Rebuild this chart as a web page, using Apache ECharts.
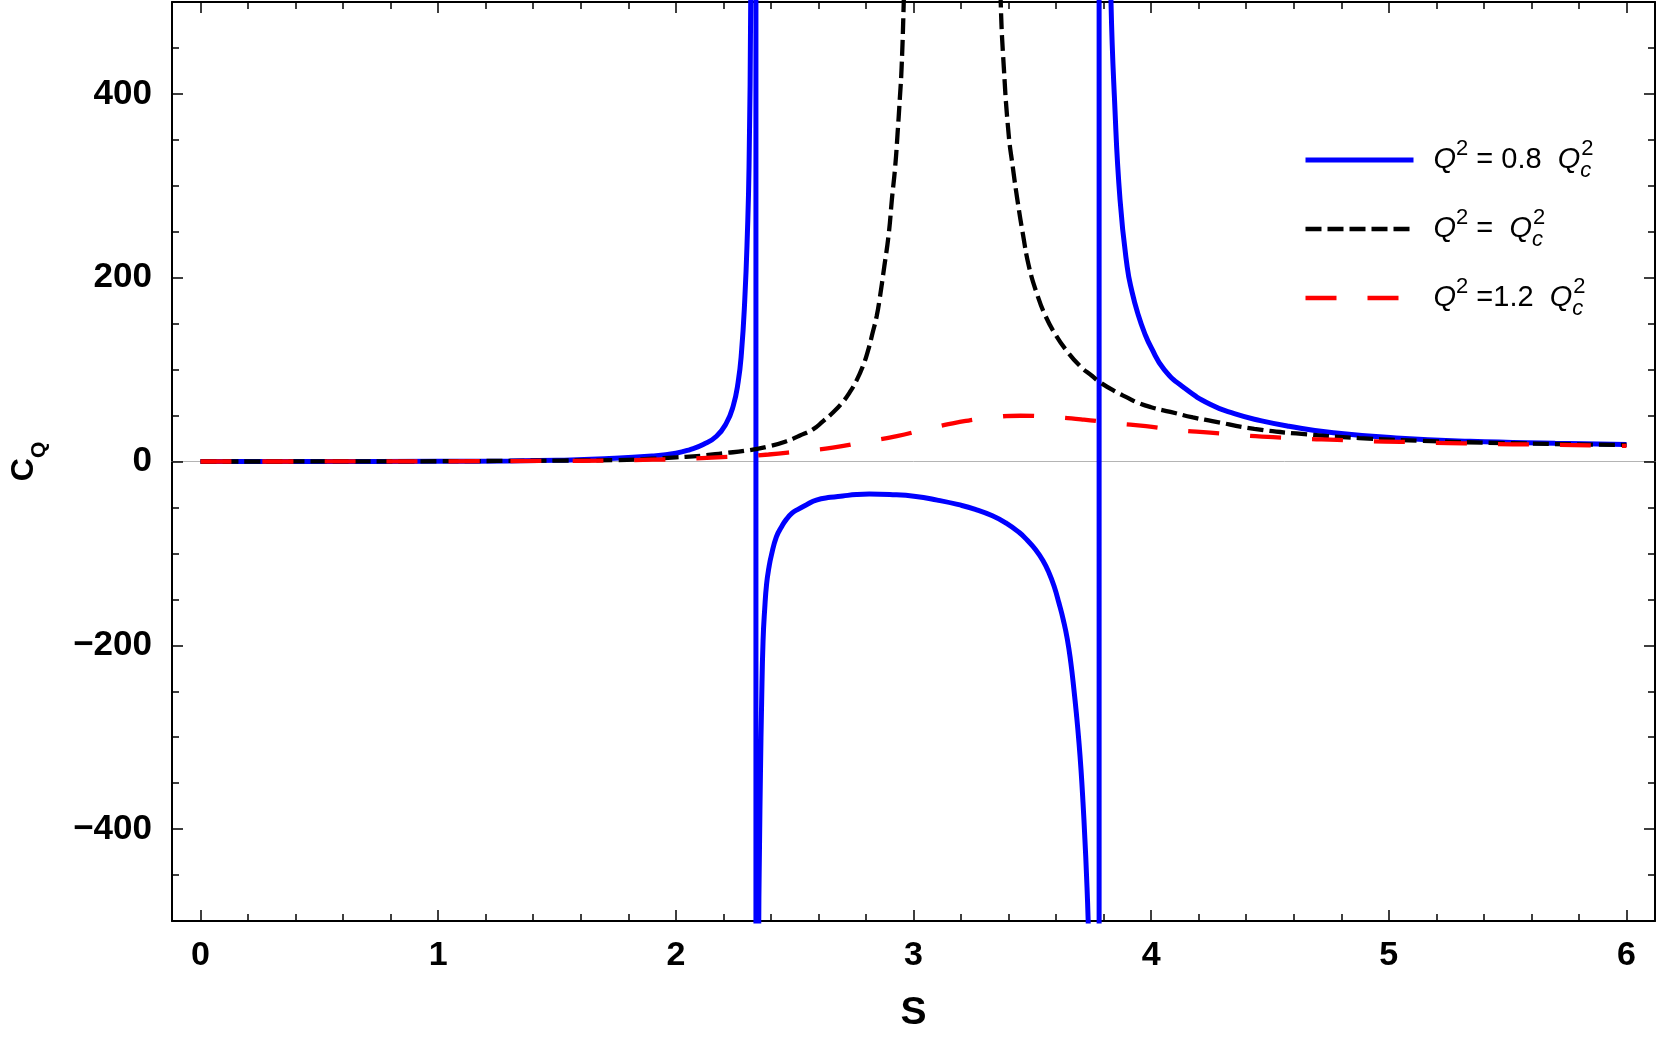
<!DOCTYPE html>
<html>
<head>
<meta charset="utf-8">
<title>C_Q vs S</title>
<script src="https://cdn.jsdelivr.net/npm/echarts@6/dist/echarts.min.js"></script>
<style>
  html, body { margin: 0; padding: 0; background: #fff; }
  #chart { width: 1661px; height: 1038px; }
</style>
</head>
<body>
<div id="chart"></div>
<script>
// 数据: S 与 C_Q
const sBlue = [0, 0.5, 1.0, 1.3, 1.5, 1.7, 1.9, 2.0, 2.06, 2.115, 2.171, 2.213, 2.241, 2.262, 2.276, 2.29, 2.301, 2.308, 2.315, 2.325, 2.332, 2.337,
  2.337, 2.342, 2.346, 2.349, 2.352, 2.356, 2.361, 2.367, 2.374, 2.382, 2.392, 2.402, 2.423, 2.445, 2.465, 2.49, 2.514, 2.55, 2.591, 2.65, 2.702,
  2.76, 2.814, 2.9, 3.01, 3.1, 3.19, 3.26, 3.332, 3.39, 3.444, 3.48, 3.514, 3.545, 3.57, 3.592, 3.612, 3.63, 3.647, 3.662, 3.675, 3.686, 3.696,
  3.705, 3.713, 3.721, 3.728, 3.735, 3.75, 3.77, 3.781, 3.781, 3.79, 3.8, 3.815, 3.831, 3.846, 3.869, 3.899, 3.92, 3.945, 3.972, 4.0, 4.055,
  4.14, 4.25, 4.35, 4.46, 4.58, 4.767, 5.031, 5.342, 5.7, 6.0];
const cBlue = [0, 0.05, 0.3, 0.6, 1.3, 3, 6, 9, 13, 18.5, 27.5, 42, 60, 86, 118, 176, 248, 321, 500, 1000, 3000, 20000,
  -20000, -2000, -900, -500, -420, -340, -262, -195, -160, -133, -115, -102, -82, -71, -63, -56, -52, -47, -42, -39, -37.5,
  -36, -35.5, -36, -38, -42, -47, -52, -59, -67, -77, -86, -96, -108, -121, -136, -154, -172, -193, -219, -248, -276, -305,
  -336, -370, -410, -450, -500, -650, -1500, -20000, 20000, 2700, 1300, 740, 500, 393, 285, 212, 184, 160, 140, 124, 100,
  80, 62, 52, 44.5, 38.4, 31.2, 25.7, 22, 19.8, 18.5];

const sBlack = [0, 0.5, 1.0, 1.5, 1.75, 1.9, 2.0, 2.115, 2.2, 2.3, 2.4, 2.465, 2.52, 2.577, 2.62, 2.66, 2.7, 2.731, 2.76, 2.786, 2.808, 2.828,
  2.845, 2.857, 2.877, 2.896, 2.909, 2.923, 2.933, 2.942, 2.95, 2.959, 2.975, 3.16, 3.355, 3.367, 3.38, 3.4, 3.418, 3.437, 3.46, 3.486, 3.52,
  3.556, 3.6, 3.64, 3.7, 3.752, 3.78, 3.85, 3.904, 3.943, 4.0, 4.081, 4.176, 4.257, 4.434, 4.61, 4.875, 5.14, 5.493, 6.0];
const cBlack = [0, 0.05, 0.3, 1, 1.5, 3, 4.5, 6.5, 9, 12, 17, 22, 28, 35, 44, 53, 64, 75, 88, 103, 120, 140,
  158, 176, 212, 248, 285, 321, 357, 393, 429, 500, 650, 5000, 650, 500, 429, 357, 320, 285, 248, 212, 182,
  158, 137, 122, 104, 93, 87, 76, 69, 64, 59, 54, 48, 44, 35.5, 30.5, 25.5, 22.5, 20, 18];

const sRed = [0, 0.5, 1.0, 1.5, 1.7, 1.9, 2.0, 2.13, 2.26, 2.39, 2.53, 2.66, 2.79, 2.93, 3.05, 3.185, 3.31, 3.45, 3.58, 3.717, 3.85,
  3.978, 4.116, 4.248, 4.381, 4.513, 4.646, 4.782, 4.911, 5.048, 5.178, 5.317, 5.449, 5.581, 5.714, 5.846, 6.0];
const cRed = [0, 0.03, 0.2, 0.7, 1, 2, 2.5, 4, 5.5, 7.6, 11.5, 15, 21, 27.5, 35, 42.5, 47.4, 49.8, 48.5, 45.6, 41.5,
  38.5, 34, 31.5, 28.6, 26.5, 24.6, 23.5, 22, 21.4, 20.3, 19.8, 18.9, 18.6, 18.1, 17.6, 17];

// 刻度
const xMajorTicks = [0, 1, 2, 3, 4, 5, 6];
const xMinorTicks = [0.2, 0.4, 0.6, 0.8, 1.2, 1.4, 1.6, 1.8, 2.2, 2.4, 2.6, 2.8, 3.2, 3.4, 3.6, 3.8, 4.2, 4.4, 4.6, 4.8, 5.2, 5.4, 5.6, 5.8];
const yMajorTicks = [-400, -200, 0, 200, 400];
const yMinorTicks = [-450, -350, -300, -250, -150, -100, -50, 50, 100, 150, 250, 300, 350, 450];

const seriesNames = ['Q2 = 0.8 Qc2', 'Q2 = Qc2', 'Q2 = 1.2 Qc2'];
const legendLabels = {
  'Q2 = 0.8 Qc2': '{q|Q}{sp|2}{n| = 0.8  }{q|Q}{sb|c}{sp|2}',
  'Q2 = Qc2': '{q|Q}{sp|2}{n| =  }{q|Q}{sb|c}{sp|2}',
  'Q2 = 1.2 Qc2': '{q|Q}{sp|2}{n| =1.2  }{q|Q}{sb|c}{sp|2}'
};

const FONT = "'Liberation Sans', Arial, sans-serif";

function zip(xs, ys) {
  return xs.map((x, i) => [x, ys[i]]);
}

const frameLine = { show: true, onZero: false, lineStyle: { color: '#000', width: 2 } };
const noLine = { show: false, onZero: false };
const tickStyle = { color: '#000', width: 1.5 };

function xAx(pos, ticks, len, opts) {
  return Object.assign({
    type: 'value', position: pos, min: -0.12, max: 6.12,
    axisLine: noLine,
    axisTick: { show: true, inside: true, length: len, customValues: ticks, lineStyle: tickStyle },
    axisLabel: { show: false },
    splitLine: { show: false }
  }, opts || {});
}
function yAx(pos, ticks, len, opts) {
  return Object.assign({
    type: 'value', position: pos, min: -500, max: 500,
    axisLine: noLine,
    axisTick: { show: true, inside: true, length: len, customValues: ticks, lineStyle: tickStyle },
    axisLabel: { show: false },
    splitLine: { show: false }
  }, opts || {});
}

const chart = echarts.init(document.getElementById('chart'));

chart.setOption({
  animation: false,
  backgroundColor: '#fff',
  grid: { left: 166, top: 2, width: 1489, height: 920 },
  legend: {
    data: seriesNames,
    orient: 'vertical',
    left: 1303,
    top: 138,
    padding: 0,
    itemGap: 25,
    itemWidth: 108,
    itemHeight: 10,
    selectedMode: false,
    itemStyle: { opacity: 0 },
    lineStyle: { width: 'inherit' },
    formatter: name => legendLabels[name],
    textStyle: {
      fontFamily: FONT,
      fontSize: 29,
      color: '#000',
      padding: [0, 0, 0, 15],
      rich: {
        q: { fontStyle: 'italic', fontSize: 29, lineHeight: 44 },
        n: { fontSize: 29, lineHeight: 44 },
        sp: { fontSize: 22, lineHeight: 22, verticalAlign: 'top' },
        sb: { fontStyle: 'italic', fontSize: 22, lineHeight: 22, verticalAlign: 'bottom', width: 1 }
      }
    }
  },
  xAxis: [
    xAx('bottom', xMajorTicks, 11, {
      axisLine: frameLine,
      axisLabel: {
        show: true, customValues: xMajorTicks, margin: 18,
        fontFamily: FONT, fontSize: 34, fontWeight: 'bold', color: '#000'
      },
      name: 'S',
      nameLocation: 'middle',
      nameGap: 73,
      nameTextStyle: { fontFamily: FONT, fontSize: 39, fontWeight: 'bold', color: '#000' }
    }),
    xAx('bottom', xMinorTicks, 7),
    xAx('top', xMajorTicks, 11, { axisLine: frameLine }),
    xAx('top', xMinorTicks, 7),
    // y = 0 的灰线
    xAx('bottom', [], 0, {
      axisLine: { show: true, onZero: true, lineStyle: { color: '#b4b4b4', width: 1 } },
      axisTick: { show: false }
    })
  ],
  yAxis: [
    yAx('left', yMajorTicks, 11, {
      axisLine: frameLine,
      axisLabel: {
        show: true, customValues: yMajorTicks, margin: 20,
        fontFamily: FONT, fontSize: 35, fontWeight: 'bold', color: '#000',
        formatter: v => (v < 0 ? '\u2212' + (-v) : String(v))
      },
      name: '{c|C}{q|Q}',
      nameLocation: 'middle',
      nameRotate: 90,
      nameGap: 122,
      nameTextStyle: {
        fontFamily: FONT, fontWeight: 'bold', color: '#000',
        rich: {
          c: { fontSize: 32, fontWeight: 'bold', lineHeight: 52 },
          q: { fontSize: 21, fontWeight: 'bold', lineHeight: 21, verticalAlign: 'bottom' }
        }
      }
    }),
    yAx('left', yMinorTicks, 7),
    yAx('right', yMajorTicks, 11, { axisLine: frameLine }),
    yAx('right', yMinorTicks, 7)
  ],
  series: [
    {
      name: seriesNames[0], type: 'line', xAxisIndex: 0, yAxisIndex: 0,
      data: zip(sBlue, cBlue), symbol: 'none', showSymbol: false, clip: true, smooth: 0.5,
      lineStyle: { color: '#0000ff', width: 5, type: 'solid' },
      itemStyle: { color: '#0000ff' }
    },
    {
      name: seriesNames[1], type: 'line', xAxisIndex: 0, yAxisIndex: 0,
      data: zip(sBlack, cBlack), symbol: 'none', showSymbol: false, clip: true, smooth: 0.5,
      lineStyle: { color: '#000', width: 4.3, type: [16, 6] },
      itemStyle: { color: '#000' }
    },
    {
      name: seriesNames[2], type: 'line', xAxisIndex: 0, yAxisIndex: 0,
      data: zip(sRed, cRed), symbol: 'none', showSymbol: false, clip: true, smooth: 0.5,
      lineStyle: { color: '#ff0000', width: 4.3, type: [31, 31] },
      itemStyle: { color: '#ff0000' }
    }
  ]
});
</script>
</body>
</html>
